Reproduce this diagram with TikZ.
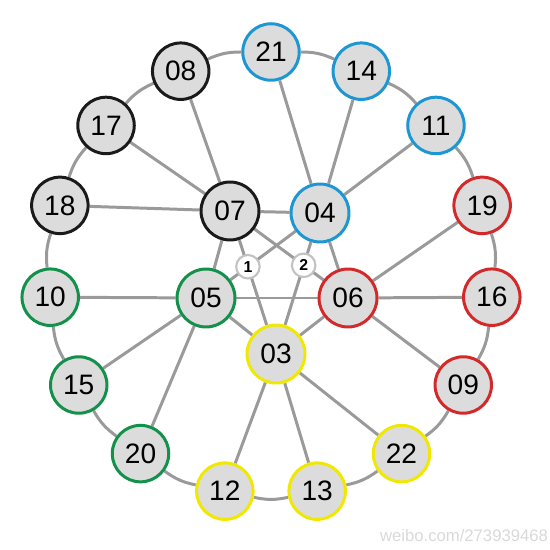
\documentclass[tikz,border=0pt]{standalone}
\usepackage{fontspec}
\setmainfont{Liberation Sans}
\usetikzlibrary{backgrounds,intersections}
\definecolor{ballgray}{HTML}{DCDCDC}
\definecolor{linegray}{HTML}{9A9A9A}
\definecolor{ballblack}{HTML}{1A1A1A}
\definecolor{ballblue}{HTML}{1E96D2}
\definecolor{ballred}{HTML}{D22A2A}
\definecolor{ballyellow}{HTML}{F0E800}
\definecolor{ballgreen}{HTML}{13904A}
\tikzset{
    ballnode/.style = {circle, align=center, inner sep=0pt, fill=ballgray, line width=1.7pt, minimum size=1.13cm, font=\fontsize{16}{18}\selectfont},
    black_node/.style = {ballnode, draw=ballblack},
    blue_node/.style = {ballnode, draw=ballblue},
    red_node/.style = {ballnode, draw=ballred},
    yellow_node/.style = {ballnode, draw=ballyellow},
    green_node/.style = {ballnode, draw=ballgreen},
    cross_node/.style = {circle, inner sep=0pt, fill=white, draw=linegray!60, line width=1.2pt, minimum size=0.47cm, font=\fontsize{9}{10}\selectfont\bfseries},
    link/.style = {draw=linegray, line width=1.7pt}
}

\begin{document}
\begin{tikzpicture}[x=0.02cm, y=0.02cm]
    \useasboundingbox (0,0) rectangle (550,550);
    \begin{scope}[shift={(271,276)}]
        % outer ring
        \node [blue_node] (n21) at (90:222) {21};
        \node [blue_node] (n14) at (66:222) {14};
        \node [blue_node] (n11) at (42:222) {11};
        \node [red_node] (n19) at (18:222) {19};
        \node [red_node] (n16) at (-6:222) {16};
        \node [red_node] (n09) at (-30:222) {09};
        \node [yellow_node] (n22) at (-54:222) {22};
        \node [yellow_node] (n13) at (-78:222) {13};
        \node [yellow_node] (n12) at (-102:222) {12};
        \node [green_node] (n20) at (-126:222) {20};
        \node [green_node] (n15) at (-150:222) {15};
        \node [green_node] (n10) at (-174:222) {10};
        \node [black_node] (n18) at (162:222) {18};
        \node [black_node] (n17) at (138:222) {17};
        \node [black_node] (n08) at (114:222) {08};
        % inner five
        \node [black_node, minimum size=1.16cm] (n07) at (-41,63) {07};
        \node [blue_node, minimum size=1.16cm] (n04) at (49,61) {04};
        \node [green_node, minimum size=1.16cm] (n05) at (-65,-24) {05};
        \node [red_node, minimum size=1.16cm] (n06) at (77,-24) {06};
        \node [yellow_node, minimum size=1.16cm] (n03) at (5,-80) {03};
    \end{scope}

    \begin{pgfonlayer}{background}
        % ring links
        \draw [link] (n21) to[bend left=12] (n14);
        \draw [link] (n14) to[bend left=12] (n11);
        \draw [link] (n11) to[bend left=12] (n19);
        \draw [link] (n19) to[bend left=12] (n16);
        \draw [link] (n16) to[bend left=12] (n09);
        \draw [link] (n09) to[bend left=12] (n22);
        \draw [link] (n22) to[bend left=12] (n13);
        \draw [link] (n13) to[bend left=12] (n12);
        \draw [link] (n12) to[bend left=12] (n20);
        \draw [link] (n20) to[bend left=12] (n15);
        \draw [link] (n15) to[bend left=12] (n10);
        \draw [link] (n10) to[bend left=12] (n18);
        \draw [link] (n18) to[bend left=12] (n17);
        \draw [link] (n17) to[bend left=12] (n08);
        \draw [link] (n08) to[bend left=12] (n21);

        % spokes
        \draw [link] (n07) -- (n08);
        \draw [link] (n07) -- (n17);
        \draw [link] (n07) -- (n18);
        \draw [link] (n04) -- (n21);
        \draw [link] (n04) -- (n14);
        \draw [link] (n04) -- (n11);
        \draw [link] (n06) -- (n19);
        \draw [link] (n06) -- (n16);
        \draw [link] (n06) -- (n09);
        \draw [link] (n05) -- (n10);
        \draw [link] (n05) -- (n15);
        \draw [link] (n05) -- (n20);
        \draw [link] (n03) -- (n12);
        \draw [link] (n03) -- (n13);
        \draw [link] (n03) -- (n22);

        % inner links
        \draw [link] (n07) -- (n04);
        \draw [link] (n07) -- (n05);
        \draw [link, name path global=l0703] (n07) -- (n03);
        \draw [link, name path global=l0706] (n07) -- (n06);
        \draw [link, name path global=l0405] (n04) -- (n05);
        \draw [link, name path global=l0403] (n04) -- (n03);
        \draw [link] (n04) -- (n06);
        \draw [link] (n05) -- (n06);
        \draw [link] (n05) -- (n03);
        \draw [link] (n06) -- (n03);
    \end{pgfonlayer}

    % crossing marks
    \path [name intersections={of=l0703 and l0405, by=x1}];
    \path [name intersections={of=l0706 and l0403, by=x2}];
    \node [cross_node] (k1) at (x1) {1};
    \node [cross_node] (k2) at (x2) {2};

    \node [text=gray!30, font=\fontsize{9.5}{11}\selectfont] (wb) at (464,14) {weibo.com/273939468};
\end{tikzpicture}
\end{document}
